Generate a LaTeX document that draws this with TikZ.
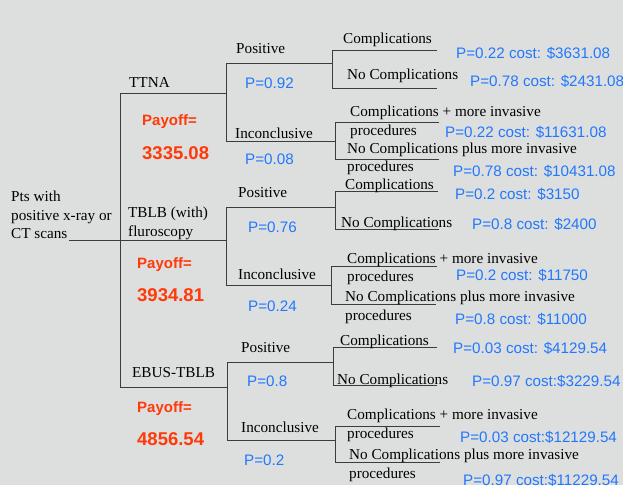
\documentclass[tikz,border=0pt]{standalone}
\usepackage{fontspec}
\setmainfont{Liberation Serif}
\setsansfont{Liberation Sans}
\definecolor{bggray}{RGB}{221,223,222}
\definecolor{probblue}{RGB}{34,119,255}
\definecolor{payred}{RGB}{255,58,10}
\definecolor{branchgray}{RGB}{60,60,60}

\begin{document}
\begin{tikzpicture}[x=1pt,y=-1pt,
    branch/.style={draw=branchgray, line width=1pt},
    lbl/.style={anchor=west, inner sep=0pt, yshift=-1.5pt, align=left, font=\fontsize{15.2}{18.5}\selectfont},
    prob/.style={anchor=west, inner sep=0pt, yshift=-1.5pt, text=probblue, font=\sffamily\fontsize{15.2}{18}\selectfont},
    payoff/.style={anchor=west, inner sep=0pt, yshift=-1.5pt, text=payred, font=\sffamily\bfseries\fontsize{15}{18}\selectfont},
    payval/.style={payoff, font=\sffamily\bfseries\fontsize{18.5}{22}\selectfont}]
    \useasboundingbox (0,0) rectangle (623,485) ;
    \fill [bggray] (0,0) rectangle (623,485) ;

    % decision node and the three tests
    \coordinate (root) at (69,240) ;
    \coordinate (ttna) at (120,93) ;
    \coordinate (ebus) at (120,387) ;
    \coordinate (cTTNA) at (226,93) ;
    \coordinate (cTBLB) at (226,240) ;
    \coordinate (cEBUS) at (227,387) ;
    \draw [branch] (root) -- (cTBLB) ;
    \draw [branch] (cTTNA) -- (ttna) -- (ebus) -- (cEBUS) ;

    % chance nodes: positive / inconclusive
    \coordinate (ttnaPos) at (332,63) ;
    \coordinate (ttnaInc) at (335,141) ;
    \coordinate (tblbPos) at (335,207) ;
    \coordinate (tblbInc) at (331,285) ;
    \coordinate (ebusPos) at (333,362) ;
    \coordinate (ebusInc) at (335,440) ;
    \draw [branch] (ttnaPos) -- (cTTNA |- ttnaPos) -- (cTTNA |- ttnaInc) -- (ttnaInc) ;
    \draw [branch] (tblbPos) -- (cTBLB |- tblbPos) -- (cTBLB |- tblbInc) -- (tblbInc) ;
    \draw [branch] (ebusPos) -- (cEBUS |- ebusPos) -- (cEBUS |- ebusInc) -- (ebusInc) ;

    % outcome fans
    \draw [branch] (437,50) -- (ttnaPos |- 0,50) -- (ttnaPos |- 0,88) -- (437,88) ;
    \draw [branch] (439,122) -- (ttnaInc |- 0,122) -- (ttnaInc |- 0,159) -- (439,159) ;
    \draw [branch] (438,191) -- (tblbPos |- 0,191) -- (tblbPos |- 0,229) -- (439,229) ;
    \draw [branch] (437,266) -- (tblbInc |- 0,266) -- (tblbInc |- 0,304) -- (436,304) ;
    \draw [branch] (437,347) -- (ebusPos |- 0,347) -- (ebusPos |- 0,385) -- (437,385) ;
    \draw [branch] (440,426) -- (ebusInc |- 0,426) -- (ebusInc |- 0,462) -- (440,462) ;

    % left labels
    \node [lbl] (pts) at (11,213.5) {Pts with\\positive x-ray or\\CT scans} ;
    \node [lbl] (ttnaLbl) at (129,81) {TTNA} ;
    \node [lbl] (tblbLbl) at (128,222) {TBLB (with)\\fluroscopy} ;
    \node [lbl] (ebusLbl) at (132,371) {EBUS-TBLB} ;
    \node [payoff] (payA) at (142,120) {Payoff=} ;
    \node [payval] (valA) at (142,152) {3335.08} ;
    \node [payoff] (payB) at (137,263) {Payoff=} ;
    \node [payval] (valB) at (137,294) {3934.81} ;
    \node [payoff] (payC) at (137,407) {Payoff=} ;
    \node [payval] (valC) at (137,438) {4856.54} ;

    % chance labels
    \node [lbl] (posA) at (236,47) {Positive} ;
    \node [prob] (pPosA) at (245,82) {P=0.92} ;
    \node [lbl] (incA) at (235,132) {Inconclusive} ;
    \node [prob] (pIncA) at (245,158) {P=0.08} ;
    \node [lbl] (posB) at (238,191) {Positive} ;
    \node [prob] (pPosB) at (248,226) {P=0.76} ;
    \node [lbl] (incB) at (238,273) {Inconclusive} ;
    \node [prob] (pIncB) at (248,305) {P=0.24} ;
    \node [lbl] (posC) at (241,346) {Positive} ;
    \node [prob] (pPosC) at (247,380) {P=0.8} ;
    \node [lbl] (incC) at (241,426) {Inconclusive} ;
    \node [prob] (pIncC) at (244,459) {P=0.2} ;

    % outcomes, TTNA
    \node [lbl] (oA1) at (343,38) {Complications} ;
    \node [prob] (cA1) at (456,52) {P=0.22 cost: \$3631.08} ;
    \node [lbl] (oA2) at (347,74) {No Complications} ;
    \node [prob] (cA2) at (470,80) {P=0.78 cost: \$2431.08} ;
    \node [lbl] (oA3) at (350,121) {Complications + more invasive\\procedures} ;
    \node [prob] (cA3) at (445,131) {P=0.22 cost: \$11631.08} ;
    \node [lbl] (oA4) at (347,157.5) {No Complications plus more invasive\\procedures} ;
    \node [prob] (cA4) at (453,170) {P=0.78 cost: \$10431.08} ;

    % outcomes, TBLB
    \node [lbl] (oB1) at (345,184) {Complications} ;
    \node [prob] (cB1) at (455,193) {P=0.2 cost: \$3150} ;
    \node [lbl] (oB2) at (341,222) {No Complications} ;
    \node [prob] (cB2) at (472,223) {P=0.8 cost: \$2400} ;
    \node [lbl] (oB3) at (347,267.5) {Complications + more invasive\\procedures} ;
    \node [prob] (cB3) at (456,274) {P=0.2 cost: \$11750} ;
    \node [lbl] (oB4) at (345,306) {No Complications plus more invasive\\procedures} ;
    \node [prob] (cB4) at (455,318) {P=0.8 cost: \$11000} ;

    % outcomes, EBUS-TBLB
    \node [lbl] (oC1) at (340,340) {Complications} ;
    \node [prob] (cC1) at (453,347) {P=0.03 cost: \$4129.54} ;
    \node [lbl] (oC2) at (337,379) {No Complications} ;
    \node [prob] (cC2) at (472,380) {P=0.97 cost:\$3229.54} ;
    \node [lbl] (oC3) at (347,424) {Complications + more invasive\\procedures} ;
    \node [prob] (cC3) at (460,436) {P=0.03 cost:\$12129.54} ;
    \node [lbl] (oC4) at (349,464) {No Complications plus more invasive\\procedures} ;
    \node [prob] (cC4) at (463,479) {P=0.97 cost:\$11229.54} ;
\end{tikzpicture}
\end{document}
